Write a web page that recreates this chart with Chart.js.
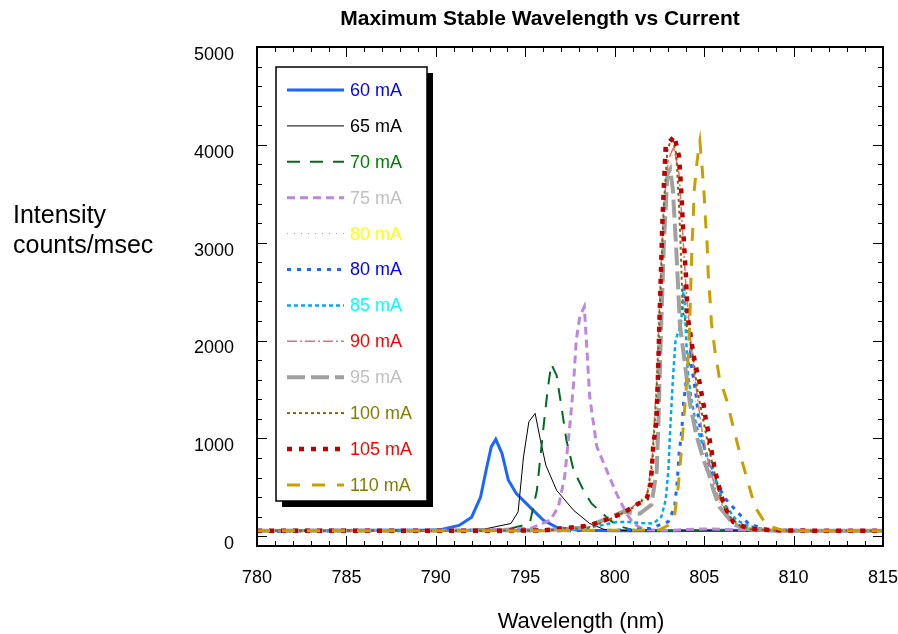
<!DOCTYPE html>
<html>
<head>
<meta charset="utf-8">
<script src="https://cdn.jsdelivr.net/npm/chart.js@4.4.0/dist/chart.umd.min.js"></script>
<style>
  body { margin: 0; background: #fff; }
  canvas { display: block; }
</style>
</head>
<body>
<canvas id="chart" width="898" height="634" style="width:898px;height:634px"></canvas>
<script>
// wavelength (nm), intensity (counts/msec) pairs
const s60 = [[780,55],[782,58],[784,55],[786,60],[788,62],[789.5,60],[790.2,65],[791.3,110],[792,195],[792.5,400],[792.85,710],[793.1,915],[793.35,990],[793.7,845],[794.05,575],[794.5,435],[795.25,300],[796,165],[796.75,90],[798,60],[800,55],[803,55],[806,60],[810,55],[815,55]];
const s65 = [[780,55],[783,55],[786,58],[789,55],[791,60],[792.9,80],[794.2,130],[794.6,250],[794.9,810],[795.2,1170],[795.55,1255],[795.85,980],[796.15,725],[796.75,470],[797.7,265],[798.6,130],[799.4,70],[801,55],[804,55],[808,55],[812,55],[815,55]];
const s70 = [[780,55],[783,55],[786,55],[789,55],[792,58],[794,70],[795.25,130],[795.65,470],[796,1085],[796.25,1495],[796.45,1760],[796.75,1645],[797.05,1290],[797.3,980],[797.7,675],[798.25,470],[798.7,335],[799.55,195],[800.1,110],[801,65],[804,55],[808,55],[812,55],[815,55]];
const s75 = [[780,55],[784,55],[788,60],[792,60],[795.3,80],[796.4,165],[796.85,300],[797.2,605],[797.5,1150],[797.7,1560],[797.85,2005],[798.05,2245],[798.3,2345],[798.45,1900],[798.6,1425],[799,915],[799.55,675],[800.1,435],[800.65,235],[801.05,130],[801.4,90],[801.8,65],[803,60],[805,75],[808,60],[811,55],[815,55]];
const s80a = [[780,55],[784,55],[788,55],[792,55],[796,60],[799,90],[800.5,200],[801.5,330],[802,500],[802.3,1000],[802.5,1900],[802.7,3000],[802.9,3700],[803.3,3950],[803.6,3700],[803.8,3100],[804,2400],[804.3,1800],[804.6,1200],[804.9,780],[805.3,560],[805.7,400],[806.1,260],[806.6,150],[807.3,80],[809,60],[812,55],[815,55]];
const s80b = [[780,50],[784,55],[788,55],[792,60],[796,55],[800,60],[802,80],[803,150],[803.35,300],[803.5,570],[803.6,845],[803.75,1085],[803.85,1360],[804,1600],[804.12,1770],[804.2,1850],[804.3,1730],[804.55,1440],[804.7,1190],[804.85,1030],[805.3,710],[805.8,505],[806.25,370],[806.9,240],[807.5,125],[808.5,70],[811,55],[815,55]];
const s85 = [[780,55],[784,55],[788,55],[792,55],[796,60],[798,70],[799.2,110],[800.1,145],[800.85,145],[801.5,135],[802.15,130],[802.6,195],[802.85,370],[803,675],[803.1,1085],[803.25,1595],[803.4,2005],[803.7,2160],[803.87,2570],[804.07,1700],[804.3,1390],[804.57,1120],[805,900],[805.4,710],[806.05,350],[806.8,165],[807.4,110],[808.5,65],[811,55],[815,55]];
const s90 = [[780,55],[784,55],[788,55],[792,55],[796,60],[798.5,90],[800,200],[801,300],[801.8,420],[802.1,800],[802.35,1600],[802.55,2600],[802.75,3400],[803,3850],[803.3,3980],[803.6,3700],[803.8,3100],[804,2500],[804.3,1900],[804.6,1450],[804.9,1050],[805.3,700],[805.7,450],[806.1,280],[806.6,150],[807.2,85],[808.5,60],[812,55],[815,55]];
const s95 = [[780,55],[784,60],[788,55],[792,60],[796,60],[798.3,90],[799.35,165],[800.45,250],[801.4,230],[802.05,320],[802.35,675],[802.45,1190],[802.55,1870],[802.75,3000],[802.95,3700],[803.1,3750],[803.25,3550],[803.45,2900],[803.65,2150],[803.85,1870],[804.2,1360],[804.57,1030],[804.95,790],[805.3,620],[805.5,480],[805.85,300],[806.45,165],[806.8,110],[807.5,70],[809,55],[812,55],[815,55]];
const s100 = [[780,55],[784,55],[788,55],[792,55],[796,60],[798.5,85],[800,190],[801,290],[801.8,400],[802.1,750],[802.35,1500],[802.55,2500],[802.75,3400],[802.95,3950],[803.2,4080],[803.45,3900],[803.6,3350],[803.7,2900],[803.8,2300],[804.1,2100],[804.35,1870],[804.65,1460],[804.95,1190],[805.25,910],[805.5,710],[805.8,470],[806.05,320],[806.45,195],[807,110],[807.6,70],[809,58],[812,55],[815,55]];
const s105 = [[780,55],[784,55],[788,55],[792,55],[796,60],[798.6,110],[799.7,180],[800.5,240],[801.2,320],[801.8,385],[802.02,540],[802.15,915],[802.34,1185],[802.43,1700],[802.5,2200],[802.58,2670],[802.66,3180],[802.75,3590],[802.85,3980],[803.33,4090],[803.6,3880],[803.74,3470],[803.81,3180],[803.89,2940],[803.98,2670],[804.07,2260],[804.39,1870],[804.54,1730],[804.72,1595],[804.99,1320],[805.1,1185],[805.23,1065],[805.36,930],[805.47,810],[805.6,675],[805.79,540],[805.98,400],[806.26,265],[806.63,145],[807.47,78],[809,60],[812,55],[815,55]];
const s110 = [[780,55],[784,55],[788,55],[792,55],[796,55],[799,60],[801,60],[802.5,65],[803.18,130],[803.36,230],[803.55,505],[803.68,775],[803.83,1115],[803.98,1460],[804.11,1835],[804.2,2200],[804.27,2670],[804.33,3010],[804.39,3250],[804.44,3520],[804.58,3790],[804.72,4000],[804.76,4040],[804.89,3760],[804.99,3520],[805.08,3215],[805.16,3010],[805.23,2670],[805.34,2395],[805.41,2175],[805.6,1900],[805.84,1630],[806.26,1390],[806.63,1115],[807,845],[807.37,605],[807.84,300],[808.5,110],[809.4,60],[812,55],[815,55]];

const seriesLabels = ['60 mA','65 mA','70 mA','75 mA','80 mA','80 mA','85 mA','90 mA','95 mA','100 mA','105 mA','110 mA'];
const seriesPoints = [s60, s65, s70, s75, s80a, s80b, s85, s90, s95, s100, s105, s110];
const lineColors = ['#1a66ff','#000000','#006b1f','#bb88dd','#ff8c1a','#1a66ff','#00aaee','#e87070','#a0a0a0','#7f6a00','#c00000','#c9a000'];
const lineWidths = [3, 1, 2, 3, 1, 3, 2.5, 1.5, 4, 2, 4.5, 3];
const lineDashes = [[], [], [13,10], [8,5], [1,6], [4,6], [4,3], [10,3,2,3], [18,6], [3,3], [5,7], [13,12]];
const legendTextColors = ['#0000ff','#000000','#008000','#c0c0c0','#ffff00','#0000ff','#00ffff','#ff0000','#c0c0c0','#808000','#ff0000','#808000'];

const xTicks = [780, 785, 790, 795, 800, 805, 810, 815];
const yTicks = [0, 1000, 2000, 3000, 4000, 5000];

const FONT = '"Liberation Sans", Arial, sans-serif';

const datasets = seriesPoints.map((pts, i) => ({
  label: seriesLabels[i],
  data: pts.map(p => ({ x: p[0], y: p[1] })),
  borderColor: lineColors[i],
  borderWidth: lineWidths[i],
  borderDash: lineDashes[i],
  pointRadius: 0,
  tension: 0,
  fill: false,
  order: -i
}));

const framePlugin = {
  id: 'frame',
  beforeDraw(chart) {
    const ctx = chart.ctx;
    ctx.save();
    ctx.fillStyle = '#fff';
    ctx.fillRect(0, 0, chart.width, chart.height);
    ctx.restore();
  },
  afterDatasetsDraw(chart) {
    const { ctx, chartArea: a, scales: { x, y } } = chart;
    ctx.save();
    ctx.strokeStyle = '#000';
    ctx.lineWidth = 1;
    ctx.beginPath();
    for (let v = 780; v <= 815; v++) {
      const px = Math.round(x.getPixelForValue(v)) + 0.5;
      const len = v % 5 === 0 ? 10 : 5;
      ctx.moveTo(px, a.bottom); ctx.lineTo(px, a.bottom - len);
      ctx.moveTo(px, a.top); ctx.lineTo(px, a.top + len);
    }
    for (let v = 0; v <= 5000; v += 200) {
      const py = Math.round(y.getPixelForValue(v)) + 0.5;
      const len = v % 1000 === 0 ? 10 : 5;
      ctx.moveTo(a.left, py); ctx.lineTo(a.left + len, py);
      ctx.moveTo(a.right, py); ctx.lineTo(a.right - len, py);
    }
    ctx.stroke();
    ctx.lineWidth = 2;
    ctx.strokeRect(a.left, a.top, a.right - a.left, a.bottom - a.top);

    // titles
    ctx.fillStyle = '#000';
    ctx.textBaseline = 'alphabetic';
    ctx.textAlign = 'center';
    ctx.font = 'bold 21px ' + FONT;
    ctx.fillText('Maximum Stable Wavelength vs Current', 540, 25);
    ctx.font = '22px ' + FONT;
    ctx.fillText('Wavelength (nm)', 581, 628);
    ctx.textAlign = 'left';
    ctx.font = '25px ' + FONT;
    ctx.fillText('Intensity', 13, 223);
    ctx.fillText('counts/msec', 13, 253);

    // legend box
    const bx = 276, by = 67, bw = 151, bh = 434;
    ctx.fillStyle = '#000';
    ctx.fillRect(bx + 6, by + 6, bw, bh);
    ctx.fillStyle = '#fff';
    ctx.fillRect(bx, by, bw, bh);
    ctx.lineWidth = 1.5;
    ctx.strokeStyle = '#000';
    ctx.strokeRect(bx, by, bw, bh);
    ctx.font = '18px ' + FONT;
    ctx.textBaseline = 'middle';
    chart.data.datasets.forEach((ds, i) => {
      const ry = 90 + i * 35.9;
      ctx.beginPath();
      ctx.strokeStyle = ds.borderColor;
      ctx.lineWidth = ds.borderWidth;
      ctx.setLineDash(ds.borderDash);
      ctx.moveTo(287, ry);
      ctx.lineTo(344, ry);
      ctx.stroke();
      ctx.setLineDash([]);
      ctx.fillStyle = legendTextColors[i];
      ctx.fillText(ds.label, 350, ry + 1);
    });
    ctx.restore();
  }
};

new Chart(document.getElementById('chart'), {
  type: 'line',
  data: { datasets },
  options: {
    responsive: false,
    animation: false,
    layout: { padding: { top: 47, right: 15, left: 0, bottom: 0 } },
    plugins: { legend: { display: false }, title: { display: false }, tooltip: { enabled: false } },
    scales: {
      x: {
        type: 'linear',
        min: 780,
        max: 815,
        grid: { display: false, drawTicks: false },
        border: { display: false },
        afterBuildTicks: s => { s.ticks = xTicks.map(v => ({ value: v })); },
        afterFit: s => { s.height = 88; s.paddingLeft = 0; s.paddingRight = 0; },
        ticks: { autoSkip: false, maxRotation: 0, padding: 21, color: '#000', font: { family: FONT, size: 18 }, callback: v => String(v) }
      },
      y: {
        type: 'linear',
        min: -100,
        max: 5000,
        grid: { display: false, drawTicks: false },
        border: { display: false },
        afterBuildTicks: s => { s.ticks = yTicks.map(v => ({ value: v })); },
        afterFit: s => { s.width = 257; s.paddingTop = 0; s.paddingBottom = 0; },
        ticks: { autoSkip: false, padding: 23, labelOffset: 8, color: '#000', font: { family: FONT, size: 18 }, callback: v => String(v) }
      }
    }
  },
  plugins: [framePlugin]
});
</script>
</body>
</html>
